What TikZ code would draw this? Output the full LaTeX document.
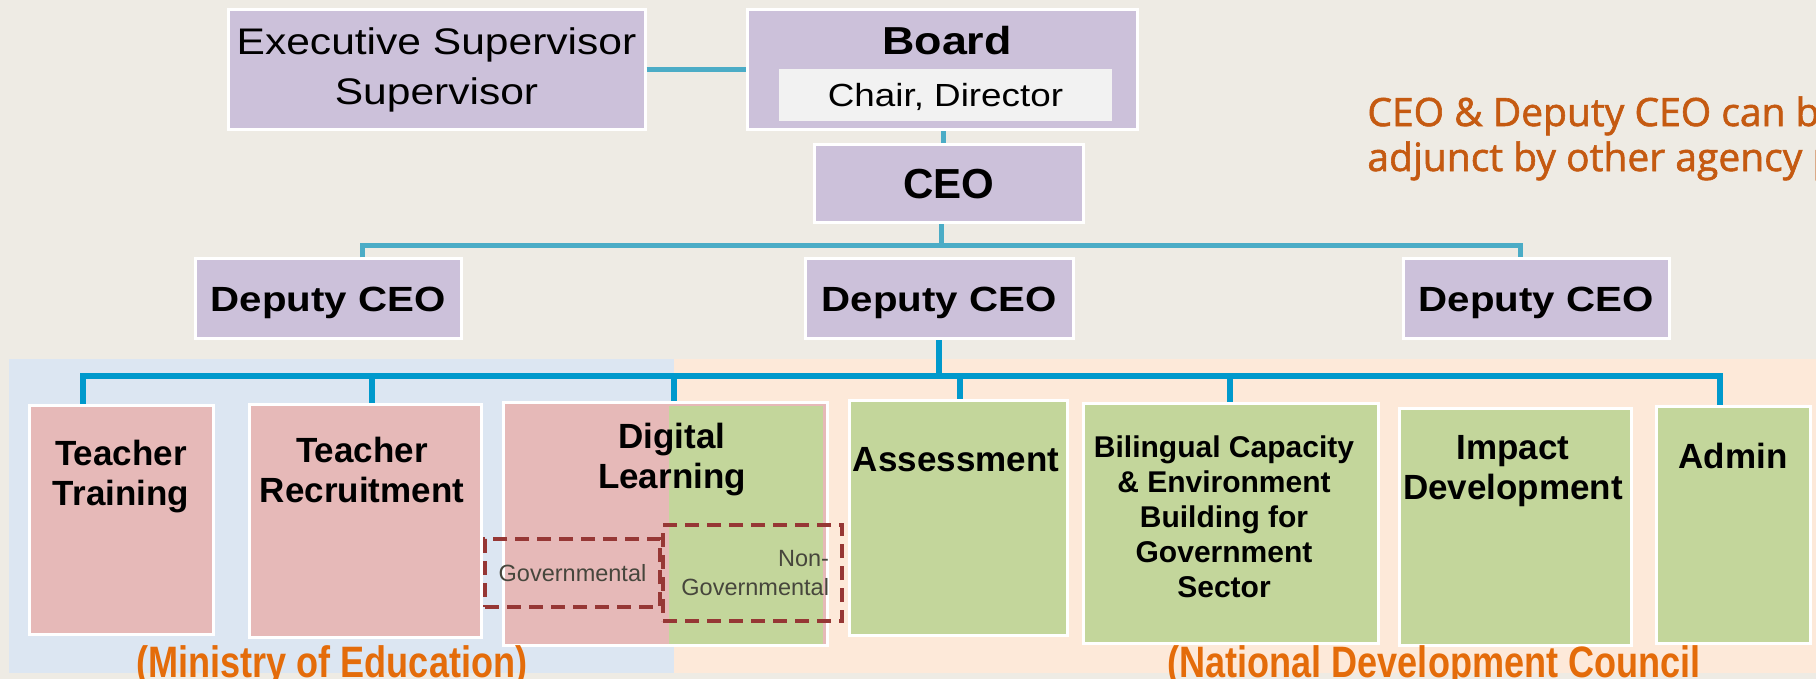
\documentclass[tikz,border=0pt]{standalone}
\usepackage{fontspec}
\setmainfont{Liberation Sans}
\newfontfamily\widefont{Liberation Sans}[FakeStretch=1.15]
\newfontfamily\narrowfont{Liberation Sans}[FakeStretch=0.82]
\newfontfamily\notefont{Open Sans}[FakeBold=1.5]
\usetikzlibrary{positioning}

\definecolor{paper}{RGB}{238,235,228}
\definecolor{lilac}{RGB}{204,193,218}
\definecolor{chairgray}{RGB}{242,242,242}
\definecolor{moepink}{RGB}{230,185,184}
\definecolor{ndcgreen}{RGB}{195,214,155}
\definecolor{moebg}{RGB}{220,230,242}
\definecolor{ndcbg}{RGB}{253,233,217}
\definecolor{upblue}{RGB}{75,172,198}
\definecolor{lowblue}{RGB}{0,153,204}
\definecolor{dashred}{RGB}{150,55,53}
\definecolor{subgray}{RGB}{70,70,60}
\definecolor{noteorange}{RGB}{197,90,17}
\definecolor{agencyorange}{RGB}{228,108,10}

\begin{document}
\begin{tikzpicture}[x=0.5pt,y=-0.5pt,
  box/.style={draw=white,line width=1.5pt,inner sep=0pt,fill=lilac},
  unit/.style={draw=white,line width=1.5pt,inner sep=0pt},
  unitlabel/.style={anchor=north,align=center,inner sep=0pt,
    font=\bfseries\fontsize{17.5}{20}\selectfont},
  upline/.style={draw=upblue,line width=2.5pt},
  lowline/.style={draw=lowblue,line width=3pt},
  subbox/.style={draw=dashred,dash pattern=on 7pt off 4pt,line width=1.6pt,
    inner sep=0pt,text=subgray,font=\fontsize{11.75}{14.5}\selectfont},
  agency/.style={anchor=base west,inner sep=0pt,text=agencyorange,
    font=\narrowfont\bfseries\fontsize{22}{26}\selectfont}]

  \path[use as bounding box] (0,0) rectangle (1816,679);
  \clip (0,0) rectangle (1816,679);
  \fill[paper] (0,0) rectangle (1816,679);
  \fill[moebg] (9,359) rectangle (674,673);
  \fill[ndcbg] (674,359) rectangle (1816,673);

  % board level
  \node[box,minimum width=208.5pt,minimum height=60pt,align=center,
    font=\widefont\fontsize{18.5}{25}\selectfont] (exec) at (436.5,70)
    {Executive Supervisor\\Supervisor};
  \node[box,minimum width=195pt,minimum height=60pt] (board) at (942,70) {};
  \node[anchor=base,inner sep=0pt,font=\widefont\bfseries\fontsize{19.5}{24}\selectfont]
    (boardlbl) at (947,55) {Board};
  \node[fill=chairgray,minimum width=166.5pt,minimum height=26pt,inner sep=0pt,
    text depth=0pt,font=\widefont\fontsize{16}{19}\selectfont] (chair) at (945.5,95)
    {Chair, Director};
  \node[box,minimum width=134.5pt,minimum height=39pt,text depth=0pt,
    font=\bfseries\fontsize{21}{25}\selectfont] (ceo) at (948.5,184) {CEO};

  \node[anchor=north west,align=left,inner sep=0pt,text=noteorange,
    font=\notefont\fontsize{19.5}{22.5}\selectfont] (note) at (1367,96)
    {CEO \& Deputy CEO can be\\adjunct by other agency p};

  % deputies
  \tikzset{deputy/.style={box,minimum height=40pt,text depth=0pt,
    font=\widefont\bfseries\fontsize{17.5}{21}\selectfont}}
  \node[deputy,minimum width=133pt] (dep1) at (328,299) {Deputy CEO};
  \node[deputy,minimum width=134pt] (dep2) at (939,299) {Deputy CEO};
  \node[deputy,minimum width=133pt] (dep3) at (1536,299) {Deputy CEO};

  \draw[upline] (exec.east) -- (board.west);
  \draw[upline] ([xshift=0.5pt]board.south) -- ([xshift=0.5pt]board.south |- ceo.north);
  \draw[upline] ([xshift=-3.75pt]ceo.south) -- ++(0,21) coordinate (topsplit);
  \draw[upline] ([xshift=17pt]dep1.north) |- (topsplit) -| ([xshift=-8pt]dep3.north);

  % units
  \node[unit,fill=moepink,minimum width=92pt,minimum height=114.5pt] (train) at (121,519.5) {};
  \node[unit,fill=moepink,minimum width=116pt,minimum height=116.5pt] (recruit) at (365,520.5) {};
  \node[unit,fill=moepink,minimum width=162pt,minimum height=121.5pt] (digital) at (665,523.5) {};
  \node[unit,fill=ndcgreen,minimum width=109pt,minimum height=117.5pt] (assess) at (958,517.5) {};
  \node[unit,fill=ndcgreen,minimum width=147.5pt,minimum height=120pt] (bilingual) at (1230.5,523) {};
  \node[unit,fill=ndcgreen,minimum width=116pt,minimum height=118.5pt] (impact) at (1515,526.5) {};
  \node[unit,fill=ndcgreen,minimum width=77pt,minimum height=118.5pt] (admin) at (1733,524.5) {};
  \fill[ndcgreen] (669,406) rectangle (823,644);

  \node[unitlabel] (trainlbl) at (121,440) {Teacher\\Training};
  \node[unitlabel] (recruitlbl) at (362,437) {Teacher\\Recruitment};
  \node[unitlabel] (digitallbl) at (672,423) {Digital\\Learning};
  \node[unitlabel] (assesslbl) at (956,447) {Assessment};
  \node[unitlabel,font=\bfseries\fontsize{15}{17.5}\selectfont] (bilinguallbl) at (1224,435)
    {Bilingual Capacity\\\& Environment\\Building for\\Government\\Sector};
  \node[unitlabel] (impactlbl) at (1513,435) {Impact\\Development};
  \node[unitlabel] (adminlbl) at (1733,443) {Admin};

  \node[subbox,minimum width=87.5pt,minimum height=34pt] (gov) at (572.5,573) {Governmental};
  \node[subbox,minimum width=89.5pt,minimum height=48pt,align=right,text width=76.5pt]
    (nongov) at (752.5,573) {Non-\\Governmental};

  \draw[lowline] (dep2.south) -- ++(0,36) coordinate (lowsplit);
  \draw[lowline] ([xshift=-19pt]train.north) |- (lowsplit) -| ([xshift=-6.5pt]admin.north);
  \foreach \unit/\shift in {recruit/3.5pt,digital/4.5pt,assess/1pt,bilingual/-0.5pt}
    \draw[lowline] ([xshift=\shift]\unit.north) -- ([xshift=\shift]\unit.north |- lowsplit);

  \node[agency] (moe) at (136,677) {(Ministry of Education)};
  \node[agency] (ndc) at (1167,677) {(National Development Council};
\end{tikzpicture}
\end{document}
